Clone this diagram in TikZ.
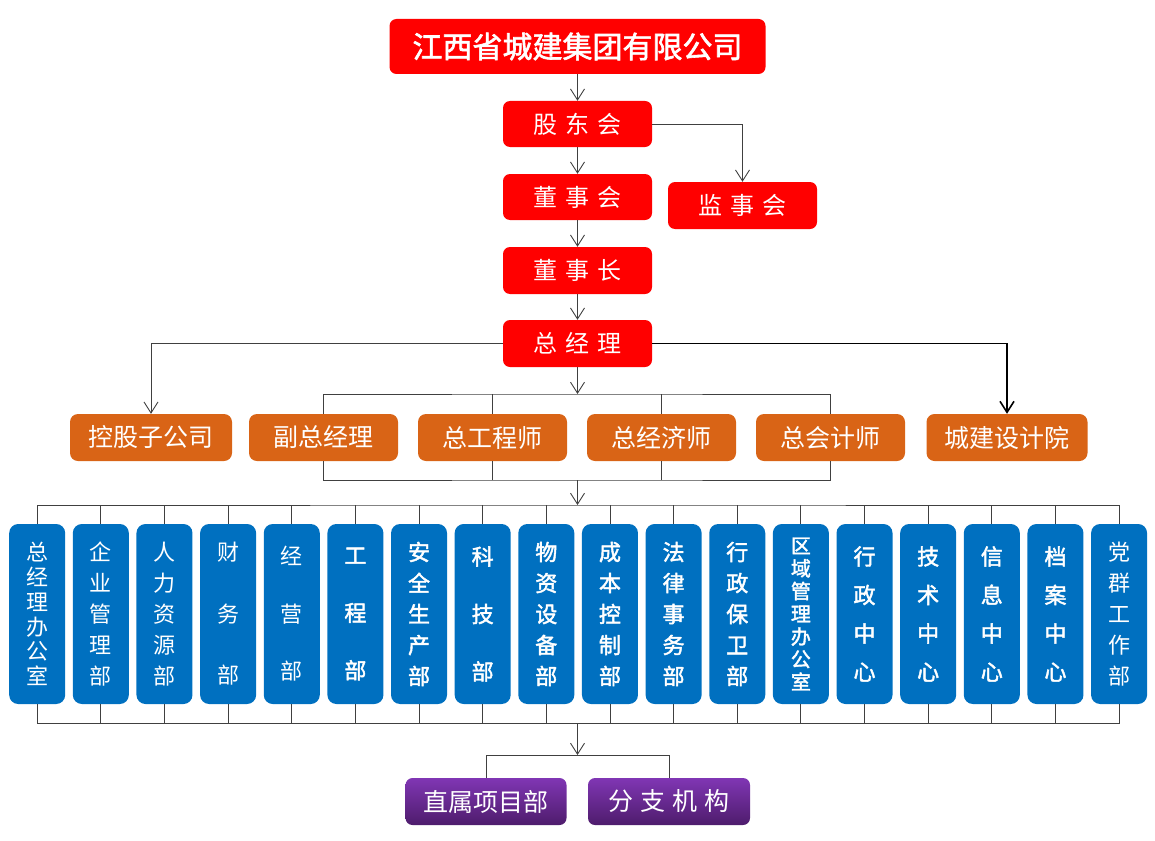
\documentclass[tikz,border=0pt]{standalone}
\usepackage{fontspec}
\setmainfont{Noto Sans CJK SC}
\newfontfamily\cjkbold[FakeBold=2]{Noto Sans CJK SC}
\usetikzlibrary{arrows.meta}

\definecolor{cjred}{RGB}{255,0,0}
\definecolor{cjorange}{RGB}{217,100,22}
\definecolor{cjblue}{RGB}{0,112,192}
\definecolor{cjpurpletop}{RGB}{128,54,180}
\definecolor{cjpurplebot}{RGB}{78,28,108}
\newcommand{\kgap}{\hspace{8pt}}

\begin{document}
\begin{tikzpicture}[
    x=1pt, y=-1pt,
    box/.style={rounded corners=7pt, text=white, inner sep=0pt, align=center},
    redbox/.style={box, fill=cjred, minimum width=149pt, minimum height=46pt,
        font=\fontsize{24}{28}\selectfont},
    orangebox/.style={box, fill=cjorange, rounded corners=8pt, minimum width=149pt,
        minimum height=47pt, font=\fontsize{25}{30}\selectfont},
    bluebox/.style={box, fill=cjblue, rounded corners=9pt, minimum width=56pt,
        minimum height=180pt},
    purplebox/.style={box, top color=cjpurpletop, bottom color=cjpurplebot,
        rounded corners=7pt, minimum width=161pt, minimum height=47pt,
        font=\fontsize{25}{30}\selectfont},
    link/.style={draw=black!75, line width=0.9pt},
    arr/.style={link, -{Straight Barb[length=11pt,width=14pt]}}
]
    \useasboundingbox (0,0) rectangle (1155,840);

    % cúpula da empresa
    \node[redbox, minimum width=376pt, minimum height=55pt,
        font=\cjkbold\fontsize{30}{36}\selectfont] (group) at (577.5,46.5) {江西省城建集团有限公司};
    \node[redbox] (gdh) at (577.5,124) {股\kgap 东\kgap 会};
    \node[redbox] (dsh) at (577.5,197) {董\kgap 事\kgap 会};
    \node[redbox, minimum height=47pt] (jsh) at (742.5,205.5) {监\kgap 事\kgap 会};
    \node[redbox, minimum height=47pt] (dsz) at (577.5,270.5) {董\kgap 事\kgap 长};
    \node[redbox, minimum height=47pt] (zjl) at (577.5,343.5) {总\kgap 经\kgap 理};

    % segunda linha (laranja)
    \node[orangebox, minimum width=162pt] (kgzgs) at (151,437.5) {控股子公司};
    \node[orangebox] (fzjl) at (323.5,437.5) {副总经理};
    \node[orangebox] (zgcs) at (492.5,437.5) {总工程师};
    \node[orangebox] (zjjs) at (661.5,437.5) {总经济师};
    \node[orangebox] (zkjs) at (830.5,437.5) {总会计师};
    \node[orangebox, minimum width=161pt] (cjsjy) at (1007,437.5) {城建设计院};

    % departamentos (azul)
    \foreach \lbl/\fs/\pitch/\wt [count=\i] in {
        总\\经\\理\\办\\公\\室/22/24.8/\rmfamily,
        企\\业\\管\\理\\部/22/31/\rmfamily,
        人\\力\\资\\源\\部/22/31/\rmfamily,
        财\\务\\部/22/61.5/\rmfamily,
        经\\营\\部/22/57.5/\rmfamily,
        工\\程\\部/22/57.5/\cjkbold,
        安\\全\\生\\产\\部/22/31/\cjkbold,
        科\\技\\部/22/57.5/\cjkbold,
        物\\资\\设\\备\\部/22/31/\cjkbold,
        成\\本\\控\\制\\部/22/31/\cjkbold,
        法\\律\\事\\务\\部/22/31/\cjkbold,
        行\\政\\保\\卫\\部/22/31/\cjkbold,
        区\\域\\管\\理\\办\\公\\室/20/22.7/\cjkbold,
        行\\政\\中\\心/22/38.5/\cjkbold,
        技\\术\\中\\心/22/38.5/\cjkbold,
        信\\息\\中\\心/22/38.5/\cjkbold,
        档\\案\\中\\心/22/38.5/\cjkbold,
        党\\群\\工\\作\\部/22/31/\rmfamily}
    {
        \node[bluebox, font=\wt\fontsize{\fs}{\pitch}\selectfont] (b\i)
            at ({37.2+63.64*(\i-1)},614) {\lbl};
    }

    % última linha (roxo)
    \node[purplebox] (zsxm) at (486,801.5) {直属项目部};
    \node[purplebox, minimum width=162pt] (fzjg) at (669,801.5) {分\hspace{7pt}支\hspace{7pt}机\hspace{7pt}构};

    % barramentos
    \coordinate (busA) at (577.5,394);
    \coordinate (busB) at (577.5,480);
    \coordinate (busC) at (577.5,505);
    \coordinate (busD) at (577.5,723);
    \coordinate (busE) at (577.5,755);

    % ligações
    \draw[arr] (group) -- (gdh);
    \draw[arr] (gdh) -- (dsh);
    \draw[arr] (dsh) -- (dsz);
    \draw[arr] (dsz) -- (zjl);
    \draw[arr] (gdh.east) -| (jsh.north);
    \draw[arr] (zjl.west) -| (kgzgs.north);
    \draw[arr, line width=1.6pt, draw=black] (zjl.east) -| (cjsjy.north);

    \draw[arr] (zjl) -- (busA);
    \draw[link] (fzjl.north) |- (busA) -| (zkjs.north);
    \foreach \n in {zgcs, zjjs}
        \draw[link] (\n.north) -- (\n.north |- busA);
    \draw[link] (fzjl.south) |- (busB) -| (zkjs.south);
    \foreach \n in {zgcs, zjjs}
        \draw[link] (\n.south) -- (\n.south |- busB);

    \draw[arr] (busB) -- (busC);
    \draw[link] (b1.north) |- (busC) -| (b18.north);
    \draw[link] (b1.south) |- (busD) -| (b18.south);
    \foreach \i in {2,...,17} {
        \draw[link] (b\i.north) -- (b\i.north |- busC);
        \draw[link] (b\i.south) -- (b\i.south |- busD);
    }

    \draw[arr] (busD) -- (busE);
    \draw[link] (zsxm.north) |- (busE) -| (fzjg.north);
\end{tikzpicture}
\end{document}
